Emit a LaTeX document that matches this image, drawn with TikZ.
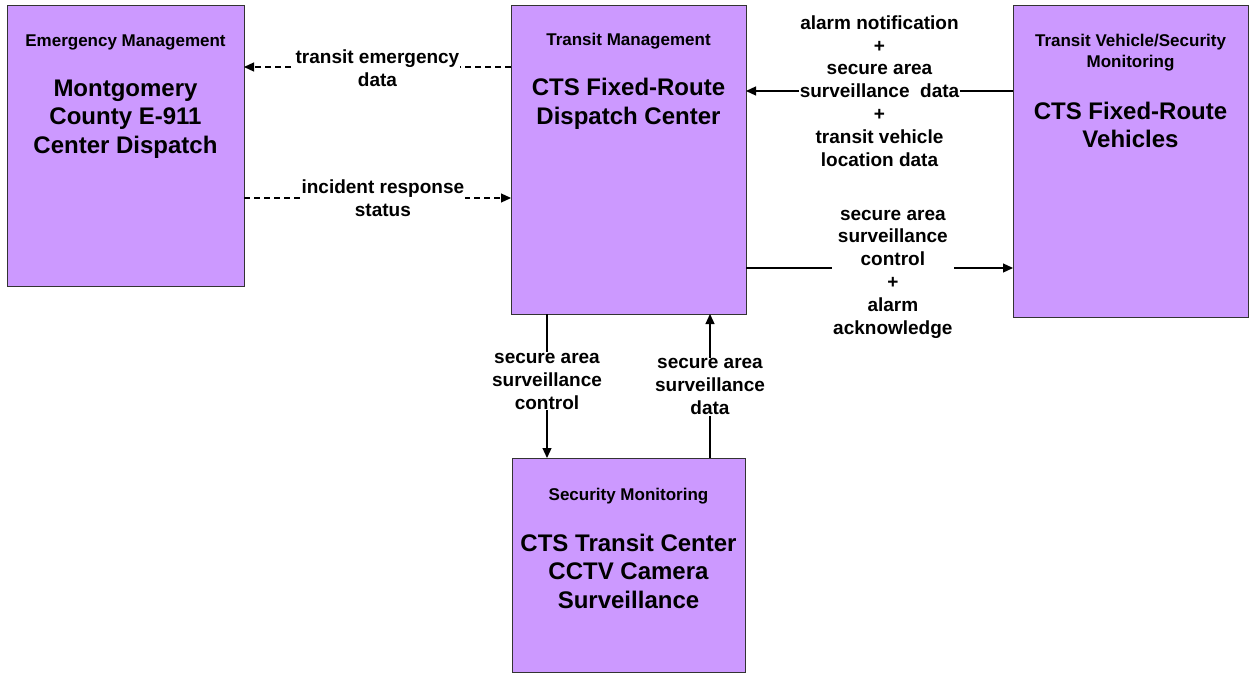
\documentclass[tikz,border=0pt]{standalone}
\usepackage{fontspec}
\setmainfont{Liberation Sans}
\usetikzlibrary{arrows.meta,positioning}
\definecolor{boxpurple}{RGB}{204,153,255}

\begin{document}
\begin{tikzpicture}[x=1pt,y=-1pt,
  sysbox/.style={draw=black!80,fill=boxpurple,line width=0.9pt,outer sep=0pt,inner sep=0pt},
  head/.style={font=\bfseries\fontsize{17}{21}\selectfont,align=center},
  title/.style={font=\bfseries\fontsize{24}{28.5}\selectfont,align=center},
  flow/.style={line width=1.2pt,-{Triangle[length=10pt,width=9pt]}},
  dashflow/.style={flow,dash pattern=on 6pt off 4pt},
  lbl/.style={font=\bfseries\fontsize{19}{22.8}\selectfont,align=center,fill=white,inner sep=1pt}]

  \useasboundingbox (0,0) rectangle (1249,674);

  % boxes
  \node[sysbox,minimum width=237pt,minimum height=281pt] (emg) at (125.5,145.5) {};
  \node[sysbox,minimum width=235pt,minimum height=309pt] (dsp) at (628.5,159.5) {};
  \node[sysbox,minimum width=235pt,minimum height=312pt] (veh) at (1130.5,161) {};
  \node[sysbox,minimum width=233pt,minimum height=214pt] (cam) at (628.5,565) {};

  % box texts
  \node[head] (emgHead) at (125.5,42) {Emergency Management};
  \node[title] (emgTitle) at (125.5,119) {Montgomery\\County E-911\\Center Dispatch};
  \node[head] (dspHead) at (628.5,41) {Transit Management};
  \node[title] (dspTitle) at (628.5,104) {CTS Fixed-Route\\Dispatch Center};
  \node[head] (vehHead) at (1130.5,52.5) {Transit Vehicle/Security\\Monitoring};
  \node[title] (vehTitle) at (1130.5,125) {CTS Fixed-Route\\Vehicles};
  \node[head] (camHead) at (628.5,496) {Security Monitoring};
  \node[title] (camTitle) at (628.5,571) {CTS Transit Center\\CCTV Camera\\Surveillance};

  % connector end points
  \coordinate (tedS) at ([yshift=-62pt]dsp.north west);
  \coordinate (irsS) at ([yshift=-193pt]emg.north east);
  \coordinate (alnS) at ([yshift=-86pt]veh.north west);
  \coordinate (sacS) at ([yshift=-263pt]dsp.north east);
  \coordinate (camC) at ([xshift=36pt]dsp.south west);
  \coordinate (camD) at ([xshift=198pt]cam.north west);

  % flows
  \draw[dashflow] (tedS) -- (tedS -| emg.east)
    node[lbl,midway,yshift=-1pt] (tedLbl) {transit emergency\\data};
  \draw[dashflow] (irsS) -- (irsS -| dsp.west)
    node[lbl,pos=0.52] (irsLbl) {incident response\\status};
  \draw[flow] (alnS) -- (alnS -| dsp.east)
    node[lbl,inner sep=0.5pt,midway] (alnLbl) {alarm notification\\+\\secure area\\surveillance\ \ data\\+\\transit vehicle\\location data};
  \draw[flow] (sacS) -- (sacS -| veh.west)
    node[lbl,pos=0.55,yshift=-6pt] (sacLbl) {secure area\\surveillance\\control\\+\\alarm\\acknowledge};
  \draw[flow] (camC) -- (camC |- cam.north)
    node[lbl,pos=0.46,yshift=-1pt] (camCLbl) {secure area\\surveillance\\control};
  \draw[flow] (camD) -- (camD |- dsp.south)
    node[lbl,pos=0.51,yshift=-2pt] (camDLbl) {secure area\\surveillance\\data};
\end{tikzpicture}
\end{document}
